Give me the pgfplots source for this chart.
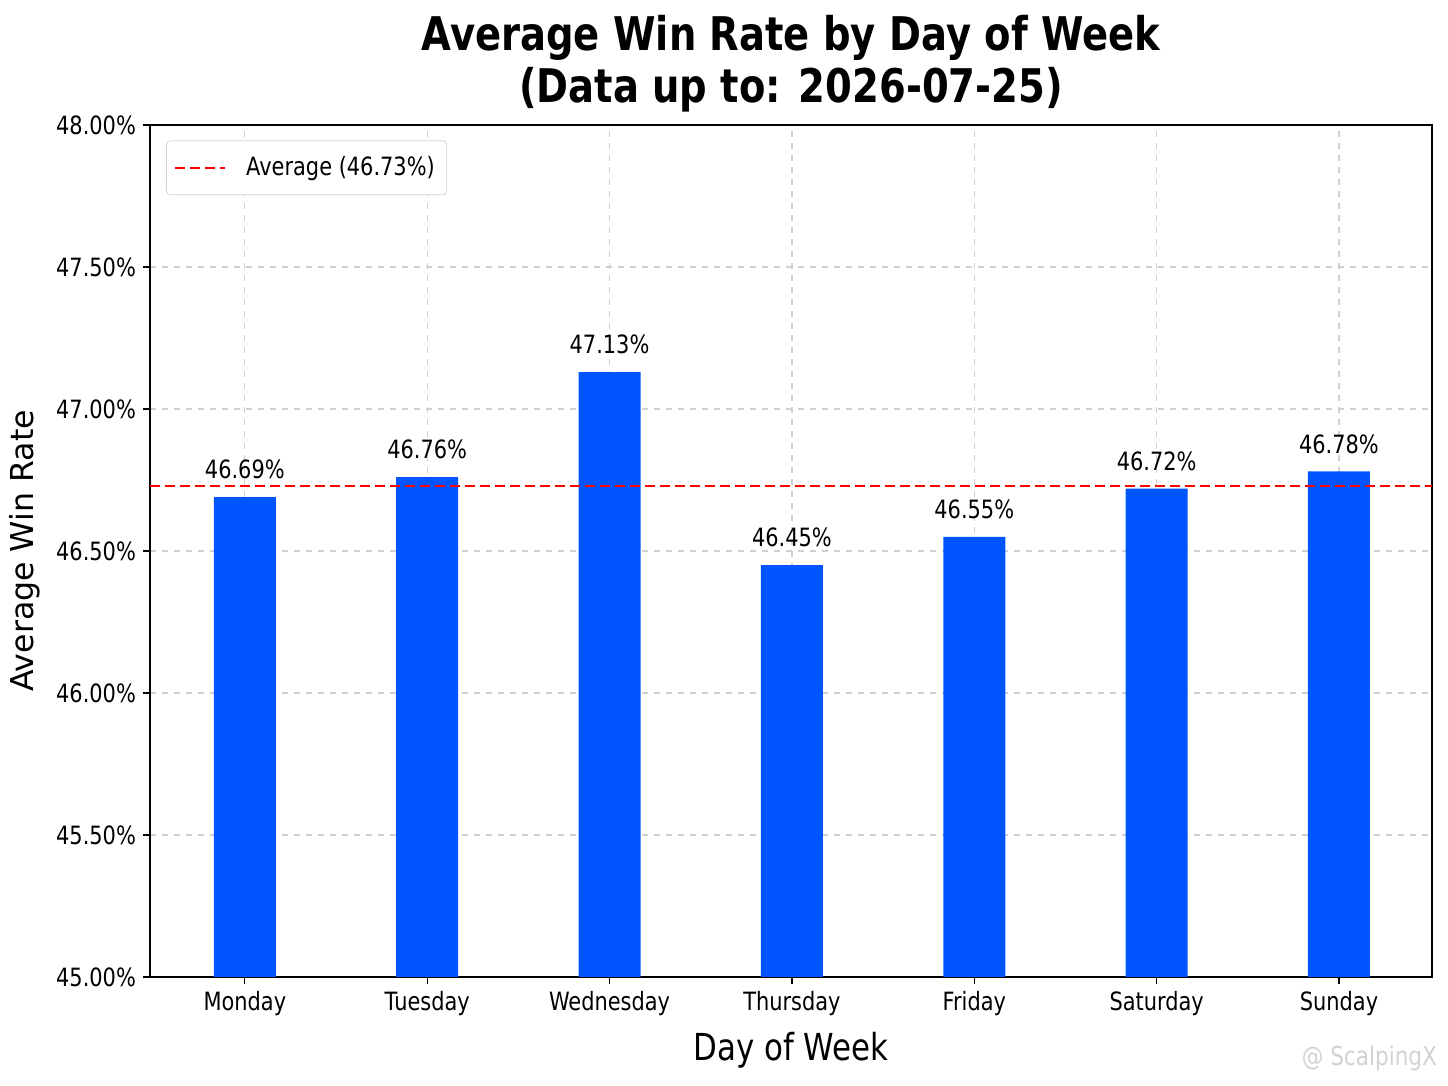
\documentclass[border=0pt]{standalone}
\usepackage{pgfplots}
\pgfplotsset{compat=1.18}
\usepackage{fontspec}
\setmainfont{DejaVu Sans}[FakeStretch=0.83]
\newfontfamily\plainfont{DejaVu Sans}
\definecolor{barblue}{HTML}{0055FF}
\definecolor{gridgray}{HTML}{D0D0D0}
\definecolor{avgred}{HTML}{FF0000}
\begin{document}
\begin{tikzpicture}[x=1pt,y=1pt]
\path (0,0) rectangle (724,543);
\begin{axis}[
  at={(75pt,54.5pt)}, anchor=south west,
  scale only axis, width=641pt, height=426pt,
  xmin=-0.52, xmax=6.51, ymin=45, ymax=48,
  xtick={0,...,6},
  xticklabels={Monday,Tuesday,Wednesday,Thursday,Friday,Saturday,Sunday},
  ytick={45,45.5,...,48},
  yticklabel={\pgfmathprintnumber[fixed,fixed zerofill,precision=2]{\tick}\%},
  /pgf/number format/assume math mode=true,
  ticklabel style={font=\fontsize{12.6}{14}\selectfont},
  tick align=outside, major tick length=3.5pt,
  xtick pos=bottom, ytick pos=left,
  tick style={black, line width=0.6pt},
  axis line style={line width=0.7pt},
  grid=major,
  major grid style={gridgray, dashed, line width=0.6pt},
  title={Average Win Rate by Day of Week\\(Data up to: 2026-07-25)},
  title style={at={(axis description cs:0.5,1)}, anchor=south, yshift=0pt, inner sep=0pt, align=center, font=\fontsize{23.2}{26}\selectfont\bfseries},
  xlabel={Day of Week},
  xlabel style={at={(axis description cs:0.5,-0.0857)}, anchor=center, font=\fontsize{18.6}{20}\selectfont},
  ylabel={Average Win Rate},
  ylabel style={at={(axis description cs:-0.0975,0.5)}, anchor=center, rotate=0, font=\plainfont\fontsize{15.8}{17}\selectfont},
  legend style={at={(axis description cs:0.0125,0.982)}, anchor=north west, draw=gray!35, rounded corners=2pt, font=\fontsize{12.6}{14}\selectfont, inner xsep=4pt, inner ysep=6pt},
  legend cell align=left,
  legend image code/.code={\draw[#1] (0pt,0pt) -- (25pt,0pt); \path (33pt,0pt);},
]
\addplot[ybar, bar width=31pt, fill=barblue, draw=none, forget plot,
  nodes near coords={\pgfmathprintnumber[fixed,fixed zerofill,precision=2]{\pgfplotspointmeta}\%},
  nodes near coords style={font=\fontsize{12.6}{14}\selectfont, black, anchor=south, yshift=5.5pt},
  point meta=explicit]
  coordinates {(0,46.69)[46.69] (1,46.76)[46.76] (2,47.13)[47.13] (3,46.45)[46.45] (4,46.55)[46.55] (5,46.72)[46.72] (6,46.78)[46.78]};
\addplot[draw=avgred, color=avgred, line width=0.9pt, dash pattern=on 5pt off 2.5pt, mark=none] coordinates {(-0.52,46.73) (6.51,46.73)};
\addlegendentry{Average (46.73\%)}
\end{axis}
\node[text=gray!35, font=\fontsize{13}{15}\selectfont, anchor=east] at (722,14) {@ ScalpingX};
\end{tikzpicture}
\end{document}
